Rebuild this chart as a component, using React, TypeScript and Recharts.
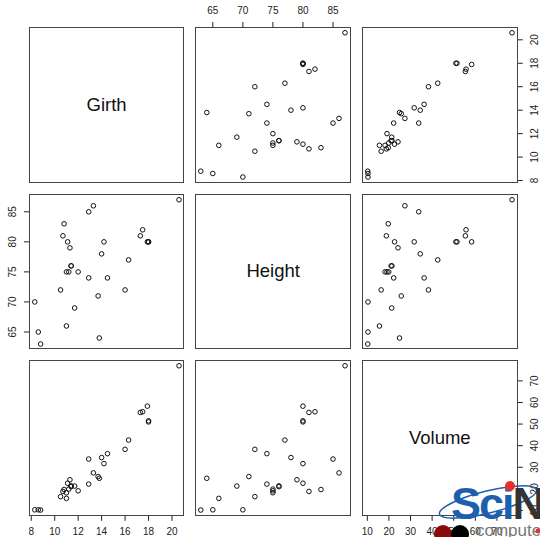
import { ScatterChart, Scatter, XAxis, YAxis } from "recharts";

// trees data set: one entry per tree
const girth = [8.3, 8.6, 8.8, 10.5, 10.7, 10.8, 11.0, 11.0, 11.1, 11.2, 11.3, 11.4, 11.4, 11.7, 12.0, 12.9, 12.9, 13.3, 13.7, 13.8, 14.0, 14.2, 14.5, 16.0, 16.3, 17.3, 17.5, 17.9, 18.0, 18.0, 20.6];
const height = [70, 65, 63, 72, 81, 83, 66, 75, 80, 75, 79, 76, 76, 69, 75, 74, 85, 86, 71, 64, 78, 80, 74, 72, 77, 81, 82, 80, 80, 80, 87];
const volume = [10.3, 10.3, 10.2, 16.4, 18.8, 19.7, 15.6, 18.2, 22.6, 19.9, 24.2, 21.0, 21.4, 21.3, 19.1, 22.2, 33.8, 27.4, 25.7, 24.9, 34.5, 31.7, 36.3, 38.3, 42.6, 55.4, 55.7, 58.3, 51.5, 51.0, 77.0];

const varNames = ["Girth", "Height", "Volume"];
const girthTicks = [8, 10, 12, 14, 16, 18, 20];
const heightTicks = [65, 70, 75, 80, 85];
const volumeTicks = [10, 20, 30, 40, 50, 60, 70];

const columns = [girth, height, volume];
const tickSets = [girthTicks, heightTicks, volumeTicks];

// R style range: 4% padding on each side
const domainOf = (v: number[]): [number, number] => {
  const lo = Math.min(...v);
  const hi = Math.max(...v);
  const pad = (hi - lo) * 0.04;
  return [lo - pad, hi + pad];
};

const X0 = 28.7;
const Y0 = 27;
const STEP = 166.6;
const S = 155.8;
const AX = 24;
const FONT = "'Liberation Sans', Arial, Helvetica, sans-serif";

const makeTick = (side: string) => (props: any) => {
  const { x, y, payload } = props;
  const common = { fontSize: 10, fill: "#222", fontFamily: FONT, textAnchor: "middle" as const };
  if (side === "top") return <text x={x} y={y} dy={-5.5} {...common}>{payload.value}</text>;
  if (side === "bottom") return <text x={x} y={y} dy={12.5} {...common}>{payload.value}</text>;
  const dy = side === "left" ? -5.7 : 13;
  return (
    <text x={x} y={y} dy={dy} transform={`rotate(-90 ${x} ${y})`} {...common}>
      {payload.value}
    </text>
  );
};

const dot = (p: any) => (
  <circle cx={p.cx} cy={p.cy} r={2.3} fill="none" stroke="#111" strokeWidth={1} />
);
const noDot = () => <g />;

function Panel({ row, col }: { row: number; col: number }) {
  const px = X0 + col * STEP;
  const py = Y0 + row * STEP;
  const top = row === 0 && col === 1;
  const bottom = row === 2 && col !== 1;
  const left = col === 0 && row === 1;
  const right = col === 2 && row !== 1;
  const w = S + (left ? AX : 0) + (right ? AX : 0);
  const h = S + (top ? AX : 0) + (bottom ? AX : 0);
  const xs = columns[col];
  const ys = columns[row];
  const data = xs.map((v, i) => ({ x: v, y: ys[i] }));
  const diag = row === col;

  return (
    <>
      <div style={{ position: "absolute", left: px - (left ? AX : 0), top: py - (top ? AX : 0) }}>
        <ScatterChart width={w} height={h} margin={{ top: 0, right: 0, bottom: 0, left: 0 }}>
          <XAxis
            type="number"
            dataKey="x"
            domain={domainOf(xs)}
            allowDataOverflow
            hide={!(top || bottom)}
            orientation={top ? "top" : "bottom"}
            height={AX}
            ticks={tickSets[col]}
            interval={0}
            tickSize={5}
            tickMargin={2}
            axisLine={false}
            tickLine={{ stroke: "#222" }}
            tick={makeTick(top ? "top" : "bottom")}
          />
          <YAxis
            type="number"
            dataKey="y"
            domain={domainOf(ys)}
            allowDataOverflow
            hide={!(left || right)}
            orientation={left ? "left" : "right"}
            width={AX}
            ticks={tickSets[row]}
            interval={0}
            tickSize={5}
            tickMargin={2}
            axisLine={false}
            tickLine={{ stroke: "#222" }}
            tick={makeTick(left ? "left" : "right")}
          />
          <Scatter data={data} shape={diag ? noDot : dot} isAnimationActive={false} />
        </ScatterChart>
      </div>
      <div
        style={{
          position: "absolute",
          left: px,
          top: py,
          width: S,
          height: S,
          boxSizing: "border-box",
          border: "1.3px solid #444",
          pointerEvents: "none",
          display: "flex",
          alignItems: "center",
          justifyContent: "center",
          fontFamily: FONT,
          fontSize: 18.5,
          color: "#111",
        }}
      >
        {diag ? varNames[row] : null}
      </div>
    </>
  );
}

export default function App() {
  const cells = [];
  for (let r = 0; r < 3; r++) for (let c = 0; c < 3; c++) cells.push(<Panel key={`${r}-${c}`} row={r} col={c} />);
  return (
    <div style={{ position: "absolute", left: 0, top: 0, width: 540, height: 537, overflow: "hidden", background: "#fff" }}>
      {cells}
      <svg width={540} height={537} style={{ position: "absolute", left: 0, top: 0, pointerEvents: "none" }}>
        <ellipse cx={488} cy={502} rx={50} ry={11} transform="rotate(-14 488 502)" fill="none" stroke="#1d5fae" strokeWidth={1.5} />
        <text x={451} y={519} fontSize={45} fontWeight={700} fontFamily={FONT} fill="#1d5fae" letterSpacing={-2}>
          Sci<tspan fill="#333">N</tspan>
        </text>
        <circle cx={510} cy={486} r={5} fill="#e8302a" />
        <circle cx={443} cy={534} r={9} fill="#8b0a0a" />
        <circle cx={460} cy={534} r={9} fill="#000" />
        <text x={476} y={536} fontSize={17} fontFamily={FONT} fill="#777">compute</text>
        <circle cx={538} cy={531} r={2.5} fill="#e8302a" />
      </svg>
    </div>
  );
}
